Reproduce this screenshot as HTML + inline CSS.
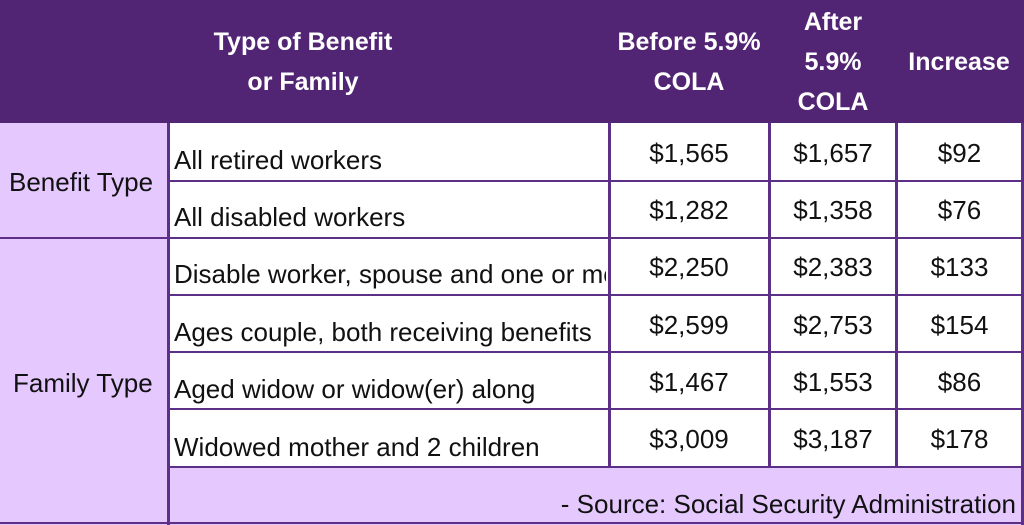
<!DOCTYPE html><html><head><style>
body{margin:0;width:1024px;height:525px;background:#fff;position:relative;overflow:hidden;font-family:"Liberation Sans",sans-serif}
.a{position:absolute;line-height:30px}
.h{color:#fff;font-weight:bold;font-size:25px;text-align:center;line-height:40px}
.t{font-size:26px;color:#111;white-space:nowrap;overflow:hidden}
.n{font-size:26px;color:#111;text-align:center}
.hl{position:absolute;background:#5e2f86;height:2px}
.vl{position:absolute;background:#5e2f86;width:3px}
</style></head><body>
<div class="a" style="left:0;top:0;width:1024px;height:123px;background:#522574"></div>
<div class="a" style="left:0;top:123px;width:168px;height:402px;background:#e4c8fe"></div>
<div class="a" style="left:168px;top:467px;width:856px;height:58px;background:#e4c8fe"></div>
<div class="a h" style="left:190px;top:22px;width:226px">Type of Benefit<br>or Family</div>
<div class="a h" style="left:595px;top:22px;width:188px">Before 5.9%<br>COLA</div>
<div class="a h" style="left:778px;top:2px;width:110px">After<br>5.9%<br>COLA</div>
<div class="a h" style="left:896px;top:42px;width:126px">Increase</div>
<div class="a t" style="left:9px;top:167px">Benefit Type</div>
<div class="a t" style="left:13px;top:368px">Family Type</div>
<div class="hl" style="left:0;top:237px;width:1024px"></div>
<div class="hl" style="left:168px;top:180px;width:856px"></div>
<div class="hl" style="left:168px;top:294px;width:856px"></div>
<div class="hl" style="left:168px;top:351px;width:856px"></div>
<div class="hl" style="left:168px;top:408px;width:856px"></div>
<div class="hl" style="left:168px;top:466px;width:856px"></div>
<div class="hl" style="left:0;top:522px;width:1024px"></div>
<div class="vl" style="left:167px;top:123px;height:402px"></div>
<div class="vl" style="left:608px;top:123px;height:345px"></div>
<div class="vl" style="left:768px;top:123px;height:345px"></div>
<div class="vl" style="left:895px;top:123px;height:345px"></div>
<div class="vl" style="left:1021px;top:123px;height:402px"></div>
<div class="a t" style="left:174px;top:145px;width:432px">All retired workers</div>
<div class="a t" style="left:174px;top:202px;width:432px">All disabled workers</div>
<div class="a t" style="left:174px;top:259px;width:432px">Disable worker, spouse and one or more children</div>
<div class="a t" style="left:174px;top:317px;width:432px">Ages couple, both receiving benefits</div>
<div class="a t" style="left:174px;top:374px;width:432px">Aged widow or widow(er) along</div>
<div class="a t" style="left:174px;top:432px;width:432px">Widowed mother and 2 children</div>
<div class="a n" style="left:610px;top:138px;width:158px">$1,565</div>
<div class="a n" style="left:771px;top:138px;width:124px">$1,657</div>
<div class="a n" style="left:898px;top:138px;width:123px">$92</div>
<div class="a n" style="left:610px;top:195px;width:158px">$1,282</div>
<div class="a n" style="left:771px;top:195px;width:124px">$1,358</div>
<div class="a n" style="left:898px;top:195px;width:123px">$76</div>
<div class="a n" style="left:610px;top:252px;width:158px">$2,250</div>
<div class="a n" style="left:771px;top:252px;width:124px">$2,383</div>
<div class="a n" style="left:898px;top:252px;width:123px">$133</div>
<div class="a n" style="left:610px;top:310px;width:158px">$2,599</div>
<div class="a n" style="left:771px;top:310px;width:124px">$2,753</div>
<div class="a n" style="left:898px;top:310px;width:123px">$154</div>
<div class="a n" style="left:610px;top:367px;width:158px">$1,467</div>
<div class="a n" style="left:771px;top:367px;width:124px">$1,553</div>
<div class="a n" style="left:898px;top:367px;width:123px">$86</div>
<div class="a n" style="left:610px;top:424px;width:158px">$3,009</div>
<div class="a n" style="left:771px;top:424px;width:124px">$3,187</div>
<div class="a n" style="left:898px;top:424px;width:123px">$178</div>
<div class="a t" style="right:8px;top:489px">- Source: Social Security Administration</div>
</body></html>
